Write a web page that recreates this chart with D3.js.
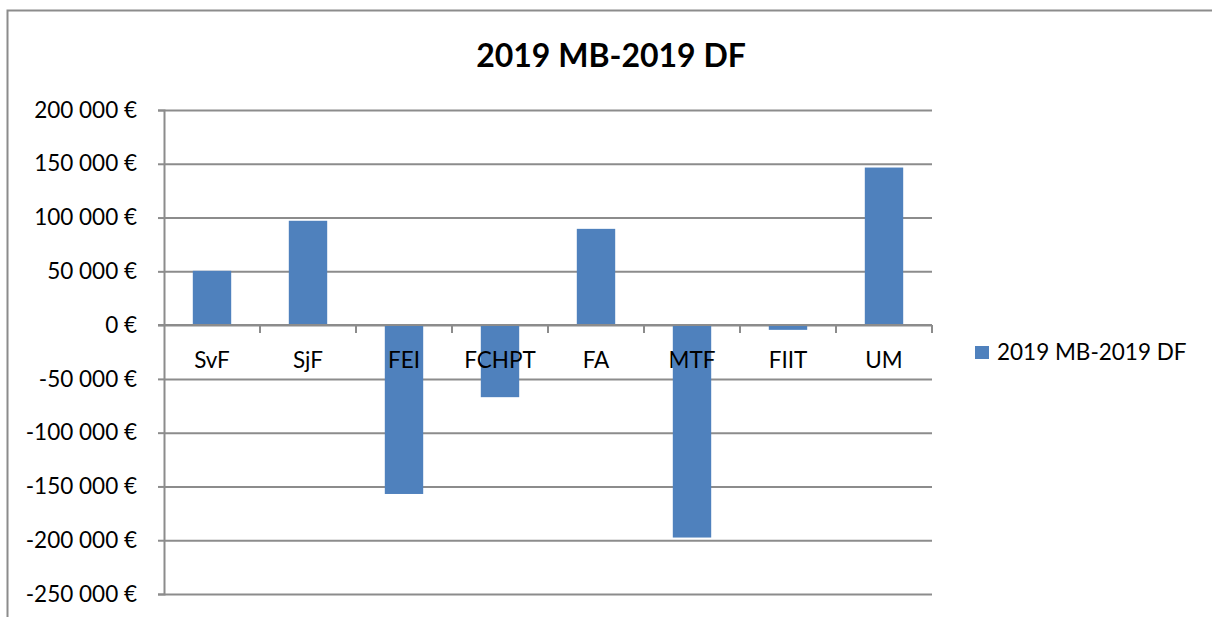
<!DOCTYPE html>
<html>
<head>
<meta charset="utf-8" />
<script src="https://cdnjs.cloudflare.com/ajax/libs/d3/7.8.5/d3.min.js"></script>
<style>
  body { margin: 0; background: #fff; }
  svg { display: block; font-family: Lato, "Open Sans", sans-serif; }
</style>
</head>
<body>
<div id="chart"></div>
<script>
  const categories = ['SvF', 'SjF', 'FEI', 'FCHPT', 'FA', 'MTF', 'FIIT', 'UM']
  const values = [50500, 97000, -157000, -67000, 89500, -197500, -4400, 146500]
  const yTicks = [200000, 150000, 100000, 50000, 0, -50000, -100000, -150000, -200000, -250000]
  const seriesName = '2019 MB-2019 DF'

  const W = 1212, H = 617
  const plot = { left: 164, right: 932, top: 110, bottom: 594 }
  const fontSize = '22.5px'

  const svg = d3.select('#chart')
    .append('svg')
    .attr('width', W)
    .attr('height', H)

  // outer chart frame (cut off at right / bottom like the reference)
  svg.append('rect')
    .attr('x', 7.5).attr('y', 10.5)
    .attr('width', W + 20).attr('height', H + 20)
    .attr('fill', 'none')
    .attr('stroke', '#8c8c8c')
    .attr('stroke-width', 2)

  svg.append('text')
    .attr('x', 611).attr('y', 67)
    .attr('text-anchor', 'middle')
    .style('font-size', '32px')
    .style('font-weight', 'bold')
    .text(seriesName)

  const x = d3.scaleBand()
    .domain(categories)
    .range([plot.left, plot.right])
    .paddingInner(0.6)
    .paddingOuter(0.3)

  const y = d3.scaleLinear()
    .domain([-250000, 200000])
    .range([plot.bottom, plot.top])

  const locale = d3.formatLocale({
    decimal: ',', thousands: ' ', grouping: [3], currency: ['', ' €'], minus: '-'
  })
  const fmt = locale.format('$,')

  // gridlines
  svg.append('g')
    .attr('transform', 'translate(' + plot.left + ',0)')
    .call(d3.axisLeft(y)
      .tickValues(yTicks)
      .tickSize(-(plot.right - plot.left))
      .tickFormat(''))
    .call(g => g.select('.domain').remove())
    .call(g => g.selectAll('line')
      .attr('stroke', '#8c8c8c')
      .attr('stroke-width', 2))

  // value axis
  svg.append('g')
    .attr('transform', 'translate(' + plot.left + ',0)')
    .call(d3.axisLeft(y)
      .tickValues(yTicks)
      .tickSize(6)
      .tickPadding(21)
      .tickFormat(fmt))
    .call(g => g.select('.domain')
      .attr('stroke', '#8c8c8c')
      .attr('stroke-width', 2))
    .call(g => g.selectAll('.tick line')
      .attr('stroke', '#8c8c8c')
      .attr('stroke-width', 2))
    .call(g => g.selectAll('text')
      .attr('fill', '#000')
      .style('font-family', 'Lato, sans-serif')
      .style('font-size', fontSize))

  // bars
  svg.append('g')
    .selectAll('rect')
    .data(values)
    .enter()
    .append('rect')
      .attr('x', (d, i) => x(categories[i]))
      .attr('width', x.bandwidth())
      .attr('y', d => y(Math.max(0, d)))
      .attr('height', d => Math.abs(y(d) - y(0)))
      .attr('fill', '#4f81bd')

  // category axis at zero, drawn over bars
  const xTickPos = d3.range(categories.length + 1)
    .map(i => plot.left + i * (plot.right - plot.left) / categories.length)

  svg.append('line')
    .attr('x1', plot.left - 6).attr('x2', plot.right)
    .attr('y1', y(0)).attr('y2', y(0))
    .attr('stroke', '#8c8c8c')
    .attr('stroke-width', 2)

  svg.append('g')
    .selectAll('line')
    .data(xTickPos.slice(1))
    .enter()
    .append('line')
      .attr('x1', d => d).attr('x2', d => d)
      .attr('y1', y(0)).attr('y2', y(0) + 8)
      .attr('stroke', '#8c8c8c')
      .attr('stroke-width', 2)

  svg.append('g')
    .selectAll('text')
    .data(categories)
    .enter()
    .append('text')
      .attr('x', d => x(d) + x.bandwidth() / 2)
      .attr('y', y(0) + 43)
      .attr('text-anchor', 'middle')
      .style('font-size', fontSize)
      .text(d => d)

  // legend
  svg.append('rect')
    .attr('x', 975).attr('y', 346)
    .attr('width', 14).attr('height', 13)
    .attr('fill', '#4f81bd')
  svg.append('text')
    .attr('x', 997).attr('y', 360)
    .style('font-size', fontSize)
    .text(seriesName)
</script>
</body>
</html>
